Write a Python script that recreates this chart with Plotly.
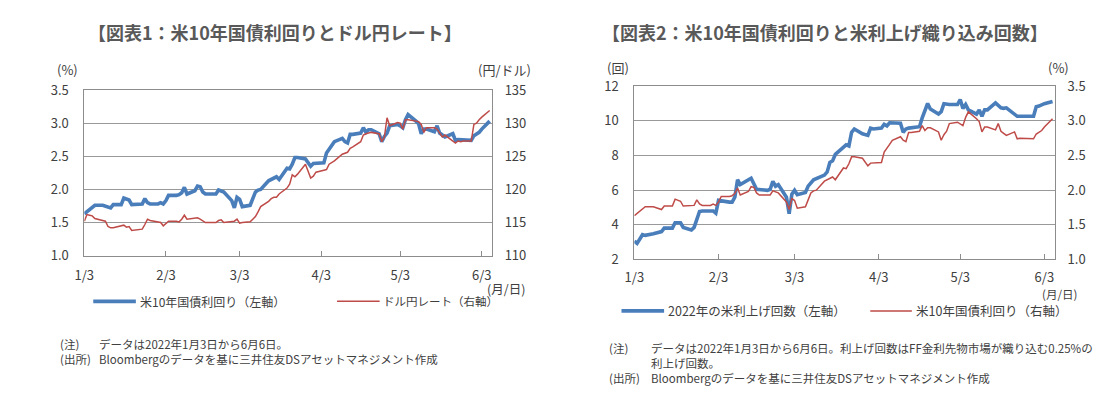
import plotly.graph_objects as go

# ---------------- data ----------------
yield_dates = [
    "2022-01-03", "2022-01-04", "2022-01-05", "2022-01-06", "2022-01-07", "2022-01-10", "2022-01-11",
    "2022-01-12", "2022-01-13", "2022-01-14", "2022-01-17", "2022-01-18", "2022-01-19", "2022-01-20",
    "2022-01-21", "2022-01-24", "2022-01-25", "2022-01-26", "2022-01-27", "2022-01-28", "2022-01-31",
    "2022-02-01", "2022-02-02", "2022-02-03", "2022-02-04", "2022-02-07", "2022-02-08", "2022-02-09",
    "2022-02-10", "2022-02-11", "2022-02-14", "2022-02-15", "2022-02-16", "2022-02-17", "2022-02-18",
    "2022-02-21", "2022-02-22", "2022-02-23", "2022-02-24", "2022-02-25", "2022-02-28", "2022-03-01",
    "2022-03-02", "2022-03-03", "2022-03-04", "2022-03-07", "2022-03-08", "2022-03-09", "2022-03-10",
    "2022-03-11", "2022-03-14", "2022-03-15", "2022-03-16", "2022-03-17", "2022-03-18", "2022-03-21",
    "2022-03-22", "2022-03-23", "2022-03-24", "2022-03-25", "2022-03-28", "2022-03-29", "2022-03-30",
    "2022-03-31", "2022-04-01", "2022-04-04", "2022-04-05", "2022-04-06", "2022-04-07", "2022-04-08",
    "2022-04-11", "2022-04-12", "2022-04-13", "2022-04-14", "2022-04-15", "2022-04-18", "2022-04-19",
    "2022-04-20", "2022-04-21", "2022-04-22", "2022-04-25", "2022-04-26", "2022-04-27", "2022-04-28",
    "2022-04-29", "2022-05-02", "2022-05-03", "2022-05-04", "2022-05-05", "2022-05-06", "2022-05-09",
    "2022-05-10", "2022-05-11", "2022-05-12", "2022-05-13", "2022-05-16", "2022-05-17", "2022-05-18",
    "2022-05-19", "2022-05-20", "2022-05-23", "2022-05-24", "2022-05-25", "2022-05-26", "2022-05-27",
    "2022-05-30", "2022-05-31", "2022-06-01", "2022-06-02", "2022-06-03", "2022-06-06",
]
yield_values = [
    1.63, 1.66, 1.70, 1.73, 1.76, 1.76, 1.75,
    1.74, 1.72, 1.77, 1.77, 1.87, 1.86, 1.84,
    1.77, 1.77, 1.78, 1.86, 1.80, 1.78, 1.78,
    1.80, 1.78, 1.83, 1.91, 1.91, 1.92, 1.95,
    2.03, 1.93, 1.98, 2.05, 2.04, 1.96, 1.93,
    1.93, 1.93, 1.99, 1.97, 1.96, 1.83, 1.72,
    1.88, 1.85, 1.74, 1.76, 1.86, 1.96, 1.99,
    2.00, 2.13, 2.15, 2.18, 2.19, 2.15, 2.32,
    2.31, 2.38, 2.48, 2.48, 2.46, 2.41, 2.35,
    2.39, 2.39, 2.40, 2.55, 2.60, 2.66, 2.72,
    2.77, 2.72, 2.70, 2.83, 2.83, 2.85, 2.93,
    2.86, 2.90, 2.90, 2.84, 2.72, 2.80, 2.85,
    2.96, 2.98, 2.96, 2.93, 3.05, 3.13, 3.03,
    2.99, 2.84, 2.91, 2.91, 2.87, 2.96, 2.85,
    2.82, 2.79, 2.84, 2.74, 2.75, 2.75, 2.74,
    2.74, 2.81, 2.84, 2.86, 2.91, 3.03,
]

usdjpy_dates = list(yield_dates)
usdjpy_values = [
    115.2, 116.2, 116.1, 116.0, 115.6, 115.3, 115.2,
    114.4, 114.2, 114.2, 114.5, 114.6, 114.3, 114.4,
    113.8, 113.9, 114.0, 114.7, 115.5, 115.3, 115.1,
    115.0, 114.5, 114.9, 115.2, 115.2, 115.1, 115.5,
    116.1, 115.5, 115.6, 115.7, 115.5, 115.2, 115.0,
    115.0, 115.0, 115.3, 115.4, 115.0, 115.1, 115.2,
    115.5, 114.9, 115.0, 115.1, 115.5, 115.9, 116.6,
    117.4, 118.2, 118.6, 118.8, 118.8, 119.3, 120.2,
    120.8, 122.2, 121.9, 122.3, 123.8, 122.8, 121.7,
    122.0, 122.6, 122.9, 123.0, 123.8, 124.0, 124.3,
    125.3, 125.4, 125.6, 126.2, 126.4, 127.2, 128.2,
    128.4, 128.5, 128.6, 128.4, 127.2, 127.9, 130.8,
    129.6, 130.1, 130.0, 129.1, 130.5, 130.5, 130.3,
    130.2, 129.8, 128.6, 129.3, 129.3, 129.1, 128.4,
    127.9, 128.2, 127.4, 127.0, 127.3, 127.2, 127.3,
    127.3, 129.8, 130.0, 130.5, 130.9, 131.9,
]

hikes_dates = [
    "2022-01-03", "2022-01-04", "2022-01-06", "2022-01-07", "2022-01-10", "2022-01-12", "2022-01-13",
    "2022-01-14", "2022-01-17", "2022-01-18", "2022-01-20", "2022-01-21", "2022-01-24", "2022-01-25",
    "2022-01-27", "2022-01-28", "2022-02-01", "2022-02-02", "2022-02-03", "2022-02-07", "2022-02-08",
    "2022-02-09", "2022-02-10", "2022-02-11", "2022-02-15", "2022-02-17", "2022-02-21", "2022-02-22",
    "2022-02-23", "2022-02-24", "2022-02-25", "2022-02-28", "2022-03-01", "2022-03-02", "2022-03-03",
    "2022-03-04", "2022-03-07", "2022-03-08", "2022-03-10", "2022-03-14", "2022-03-15", "2022-03-16",
    "2022-03-17", "2022-03-18", "2022-03-21", "2022-03-22", "2022-03-23", "2022-03-24", "2022-03-25",
    "2022-03-28", "2022-03-30", "2022-03-31", "2022-04-01", "2022-04-04", "2022-04-05", "2022-04-06",
    "2022-04-07", "2022-04-11", "2022-04-12", "2022-04-13", "2022-04-14", "2022-04-18", "2022-04-19",
    "2022-04-21", "2022-04-22", "2022-04-25", "2022-04-26", "2022-04-27", "2022-04-29", "2022-05-02",
    "2022-05-03", "2022-05-04", "2022-05-05", "2022-05-06", "2022-05-09", "2022-05-10", "2022-05-11",
    "2022-05-12", "2022-05-13", "2022-05-16", "2022-05-18", "2022-05-19", "2022-05-20", "2022-05-23",
    "2022-05-24", "2022-05-30", "2022-05-31", "2022-06-01", "2022-06-03", "2022-06-06",
]
hikes_values = [
    3.06, 2.93, 3.43, 3.39, 3.48, 3.57, 3.61,
    3.81, 3.81, 4.12, 4.12, 3.85, 3.70, 3.85,
    4.77, 4.80, 4.80, 4.67, 5.41, 5.31, 5.31,
    5.59, 6.60, 6.32, 6.69, 6.05, 5.99, 6.05,
    6.51, 6.23, 6.32, 5.59, 4.64, 5.77, 5.99,
    5.74, 5.86, 6.23, 6.60, 6.87, 7.05, 7.60,
    7.69, 8.06, 8.52, 8.61, 8.55, 9.34, 9.53,
    9.25, 9.16, 9.58, 9.53, 9.58, 9.80, 9.71,
    9.89, 9.86, 9.34, 9.53, 9.58, 9.66, 10.17,
    11.00, 10.68, 10.39, 10.53, 10.99, 10.94, 10.94,
    11.23, 10.72, 10.94, 10.63, 10.39, 10.63, 10.26,
    10.63, 10.63, 11.03, 10.75, 10.72, 10.75, 10.35,
    10.26, 10.26, 10.81, 10.85, 10.99, 11.12,
]

x_tickvals = ["2022-01-03", "2022-02-03", "2022-03-03", "2022-04-03", "2022-05-03", "2022-06-03"]
x_ticktext = ["1/3", "2/3", "3/3", "4/3", "5/3", "6/3"]
x_range = ["2022-01-03", "2022-06-06 18:00"]

yield_ticks = [1.0, 1.5, 2.0, 2.5, 3.0, 3.5]
yield_ticktext = ["1.0", "1.5", "2.0", "2.5", "3.0", "3.5"]
usdjpy_ticks = [110, 115, 120, 125, 130, 135]
hikes_ticks = [2, 4, 6, 8, 10, 12]

# ---------------- style ----------------
W, H = 1118, 397
FONT = "Noto Sans CJK JP"
BLUE = "#4A7EBB"
RED = "#BE4B48"
TXT = "#404040"
GRID = "#999999"
BORDER = "#8C8C8C"


def px(x):
    return x / W


def py(y):
    return 1 - y / H


fig = go.Figure()
fig.add_trace(go.Scatter(x=yield_dates, y=yield_values, xaxis="x", yaxis="y", mode="lines",
                         line=dict(color=BLUE, width=3.6), name="米10年国債利回り（左軸）", showlegend=False))
fig.add_trace(go.Scatter(x=usdjpy_dates, y=usdjpy_values, xaxis="x", yaxis="y2", mode="lines",
                         line=dict(color=RED, width=1.5), name="ドル円レート（右軸）", showlegend=False))
fig.add_trace(go.Scatter(x=hikes_dates, y=hikes_values, xaxis="x2", yaxis="y3", mode="lines",
                         line=dict(color=BLUE, width=3.6), name="2022年の米利上げ回数（左軸）", showlegend=False))
fig.add_trace(go.Scatter(x=yield_dates, y=yield_values, xaxis="x2", yaxis="y4", mode="lines",
                         line=dict(color=RED, width=1.5), name="米10年国債利回り（右軸）", showlegend=False))

tickfont = dict(family=FONT, size=13, color=TXT)


def xaxis_cfg(domain, anchor, standoff):
    return dict(domain=domain, anchor=anchor, type="date", range=x_range,
                tickvals=x_tickvals, ticktext=x_ticktext, ticks="inside", ticklen=5,
                tickcolor=BORDER, showgrid=False, showline=True, mirror=True,
                linecolor=BORDER, linewidth=1, zeroline=False, tickfont=tickfont,
                ticklabelstandoff=standoff, fixedrange=True)


def yaxis_cfg(domain, anchor, rng, vals, text):
    return dict(domain=domain, anchor=anchor, range=rng, tickvals=vals, ticktext=text,
                showgrid=True, gridcolor=GRID, gridwidth=1, showline=True, mirror=True,
                linecolor=BORDER, linewidth=1, zeroline=False, ticks="", tickfont=tickfont,
                ticklabelstandoff=12, fixedrange=True)


def yaxis_right(over, anchor, rng, vals, text):
    return dict(overlaying=over, anchor=anchor, side="right", range=rng, tickvals=vals,
                ticktext=text, showgrid=False, showline=False, zeroline=False, ticks="",
                tickfont=tickfont, ticklabelstandoff=12, fixedrange=True)


fig.update_layout(
    width=W, height=H, margin=dict(l=0, r=0, t=0, b=0),
    paper_bgcolor="white", plot_bgcolor="white", showlegend=False,
    font=dict(family=FONT, color=TXT),
    xaxis=xaxis_cfg([px(75), px(486)], "y", 8),
    yaxis=yaxis_cfg([py(258), py(84)], "x", [1.0, 3.5], yield_ticks, yield_ticktext),
    yaxis2=yaxis_right("y", "x", [110, 135], usdjpy_ticks, [str(v) for v in usdjpy_ticks]),
    xaxis2=xaxis_cfg([px(630), px(1054)], "y3", 6),
    yaxis3=yaxis_cfg([py(262), py(80)], "x2", [2, 12], hikes_ticks, [str(v) for v in hikes_ticks]),
    yaxis4=yaxis_right("y3", "x2", [1.0, 3.5], yield_ticks, yield_ticktext),
)

annotations = []


def text(x, y, s, size=13, xanchor="left", yanchor="middle", color=TXT, bold=False):
    annotations.append(dict(
        x=px(x), y=py(y), xref="paper", yref="paper", text=s, showarrow=False,
        xanchor=xanchor, yanchor=yanchor, align="left",
        font=dict(family=FONT, size=size, color=color, weight="bold" if bold else "normal")))


# titles
text(267, 23, "【図表1：米10年国債利回りとドル円レート】", size=18, xanchor="center", color="#595959", bold=True)
text(822, 23, "【図表2：米10年国債利回りと米利上げ織り込み回数】", size=18, xanchor="center", color="#595959", bold=True)

# axis unit labels
text(45, 63, "(%)")
text(470, 62, "(円/ドル)")
text(479, 292, "(月/日)", size=12.5)
text(600, 60, "(回)")
text(1045, 60, "(%)")
text(1039, 298, "(月/日)", size=11.5)

# legends
shapes = []


def legend_line(x0, x1, y, color, width):
    shapes.append(dict(type="line", xref="paper", yref="paper", x0=px(x0), x1=px(x1),
                       y0=py(y), y1=py(y), line=dict(color=color, width=width)))


legend_line(84, 127, 306, BLUE, 3.6)
text(129, 306, "米10年国債利回り（左軸）", size=12)
legend_line(330, 373, 306, RED, 1.5)
text(374, 306, "ドル円レート（右軸）", size=11.5)

legend_line(617, 660, 316, BLUE, 3.6)
text(662, 316, "2022年の米利上げ回数（左軸）", size=12.5)
legend_line(868, 910, 316, RED, 1.5)
text(912, 316, "米10年国債利回り（右軸）", size=12.5)

# notes (multi-line blocks, top-anchored)
text(48, 340, "(注)<br>(出所)", size=11.5, yanchor="top")
text(88, 340, "データは2022年1月3日から6月6日。<br>Bloombergのデータを基に三井住友DSアセットマネジメント作成",
     size=11.5, yanchor="top")

text(602, 345, "(注)<br> <br>(出所)", size=11.5, yanchor="top")
text(645, 345, "データは2022年1月3日から6月6日。利上げ回数はFF金利先物市場が織り込む0.25%の<br>"
     "利上げ回数。<br>Bloombergのデータを基に三井住友DSアセットマネジメント作成", size=11.5, yanchor="top")

fig.update_layout(annotations=annotations, shapes=shapes)

# remove the default page margin so the figure fills the 1118x397 page exactly
fig.write_html("out.html", config={"displayModeBar": False, "staticPlot": True},
               post_script="document.body.style.margin='0';")
